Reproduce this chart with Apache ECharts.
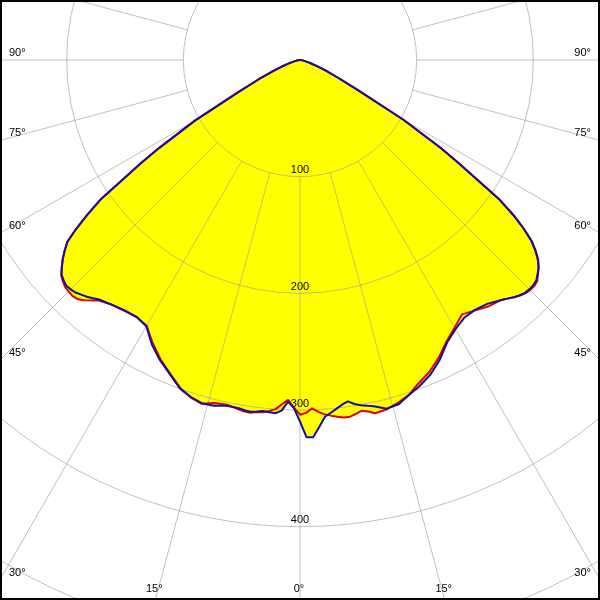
<!DOCTYPE html>
<html>
<head>
<meta charset="utf-8">
<style>
  html, body { margin: 0; padding: 0; background: #fff; }
  #chart { width: 600px; height: 600px; }
</style>
<script src="https://cdn.jsdelivr.net/npm/echarts@6/dist/echarts.min.js"></script>
</head>
<body>
<div id="chart"></div>
<script>
// Gamma angles (degrees from nadir). Positive = left half, negative = right half.
const angles = [90,85,80,75,72.5,70,67.5,65,62.5,60,58,57,56,55,54,53,52,51,50,49,48,47,46,45,44,43,42,41,40,37.5,35,32.5,30,27.5,25,22.5,20,18,16,14,12,10,9,8,7,6,5,4,3,2,1,0,
  -1,-2,-3,-4,-5,-6,-7,-8,-9,-10,-11,-12,-14,-16,-18,-20,-22.5,-25,-27.5,-30,-32.5,-35,-37.5,-40,-41,-42,-43,-44,-45,-46,-47,-48,-49,-50,-51,-52,-53,-54,-55,-56,-57,-58,-60,-62.5,-65,-67.5,-70,-72.5,-75,-80,-85,-90];

// Blue curve (cd)
const blueValues = [0,1,3,7,11,17,25,39,60,104,142.5,163,183.5,209,225,240,253,259.5,265.5,270.5,275,277,278.5,278,277,275,273,270.5,268,264.5,262,261,263.5,275,284,291.5,300,303.5,306,305.5,303,303,304,304.5,303.5,302.5,303,303.5,301,293,298.5,310,
  323.5,323.5,315,306.5,303.5,300.5,297.5,295.5,298.5,300.5,302,303.5,308,307,302,298,292,283.5,273,266.5,262,261.5,263.5,268.5,271,273.5,276,277.5,278,278,277,274,271,266.5,260,252,240,226,209,183,162,142,102,56,36,24,16,10,7,3,1,0];

// Red curve (cd)
const redValues = [0,1,3,7,11,17,25,39,60,104,142.5,163,183.5,209,225,240,253,259.5,265.5,270.5,275.5,278,280,280.5,281,280,277,273,269,264.5,262.5,261,263,273.5,283,291,299.5,304,306.5,303,302,304,305,305.3,304,303.5,302,300,295.5,291.5,298,304,
  302.5,298.7,302,304.5,306,307.5,308.8,308.7,307,305.2,307,309.5,308.5,305.5,302,295.5,289.5,281.5,272,265,258.5,262,266,268.5,271,274,276,278,279,279,278,274.5,271,266,259.5,251.5,240,226,209,183,162,142,102,56,36,24,16,10,7,3,1,0];

// Radial scale and grid
const radiusMax = 600;
const radiusInterval = 100;
const spokeAngles = [];
for (let a = 0; a < 360; a += 15) spokeAngles.push(a);
const labelAngles = [0, 15, 30, 45, 60, 75, 90];

const W = 600, H = 600;
const CENTER = [300, 60];
const RPX = 700;
const gridColor = 'rgba(160,160,160,0.65)';
const FONT = 'Liberation Sans';

function toAxisAngle(a) { return a < 0 ? a + 360 : a; }
function curve(values) { return angles.map((a, i) => [values[i], toAxisAngle(a)]); }

const spokeData = [];
spokeAngles.forEach(a => { spokeData.push([100, a], [radiusMax, a], '-'); });

// Angle labels where the spokes meet the frame
const graphics = [];
const signed = [];
labelAngles.forEach(a => { signed.push(a); if (a !== 0) signed.push(-a); });
signed.forEach(a => {
  const t = a * Math.PI / 180;
  const dx = -Math.sin(t), dy = Math.cos(t);
  const tb = dy > 1e-9 ? (H - CENTER[1]) / dy : Infinity;
  const ts = Math.abs(dx) > 1e-9 ? (dx < 0 ? CENTER[0] / -dx : (W - CENTER[0]) / dx) : Infinity;
  const tt = Math.min(tb, ts);
  const px = CENTER[0] + dx * tt, py = CENTER[1] + dy * tt;
  const txt = Math.abs(a) + '°';
  let style;
  if (tb <= ts) {
    style = { x: px - 1, y: 589, align: 'center', verticalAlign: 'middle' };
  } else if (dx < 0) {
    style = { x: 9, y: py - 7, align: 'left', verticalAlign: 'middle' };
  } else {
    style = { x: 591, y: py - 7, align: 'right', verticalAlign: 'middle' };
  }
  graphics.push({
    type: 'text', z: 10, silent: true,
    style: Object.assign({ text: txt, fill: '#000', font: '11px "' + FONT + '"' }, style)
  });
});
graphics.push({
  type: 'rect', z: 20, silent: true,
  shape: { x: 1, y: 1, width: W - 2, height: H - 2 },
  style: { fill: 'none', stroke: '#000', lineWidth: 2 }
});

const chart = echarts.init(document.getElementById('chart'), null, { renderer: 'canvas' });
chart.setOption({
  animation: false,
  backgroundColor: '#fff',
  polar: { center: CENTER, radius: RPX },
  angleAxis: {
    type: 'value', min: 0, max: 360, startAngle: -90, clockwise: true,
    axisLine: { show: false }, axisTick: { show: false }, axisLabel: { show: false },
    splitLine: { show: false }
  },
  radiusAxis: {
    type: 'value', min: 0, max: radiusMax, interval: radiusInterval, z: 2,
    axisLine: { show: false }, axisTick: { show: false },
    splitLine: { show: true, lineStyle: { color: gridColor, width: 1 } },
    axisLabel: {
      show: true, showMinLabel: false, margin: 0,
      align: 'center', verticalAlign: 'bottom', padding: [0, 0, 1, 0],
      color: '#000', fontSize: 11, fontFamily: FONT
    }
  },
  series: [
    { type: 'line', coordinateSystem: 'polar', data: curve(redValues), z: 1, silent: true,
      symbol: 'none', lineStyle: { width: 0 }, areaStyle: { color: '#ffff00', opacity: 1 } },
    { type: 'line', coordinateSystem: 'polar', data: curve(blueValues), z: 1, silent: true,
      symbol: 'none', lineStyle: { width: 0 }, areaStyle: { color: '#ffff00', opacity: 1 } },
    { type: 'line', coordinateSystem: 'polar', data: spokeData, z: 2, silent: true, clip: false,
      symbol: 'none', connectNulls: false, lineStyle: { color: gridColor, width: 1 } },
    { type: 'line', coordinateSystem: 'polar', data: curve(redValues), z: 3, silent: true,
      symbol: 'none', lineStyle: { color: '#e00000', width: 2 } },
    { type: 'line', coordinateSystem: 'polar', data: curve(blueValues), z: 4, silent: true,
      symbol: 'none', lineStyle: { color: '#1010a8', width: 2 } }
  ],
  graphic: graphics
});
</script>
</body>
</html>
